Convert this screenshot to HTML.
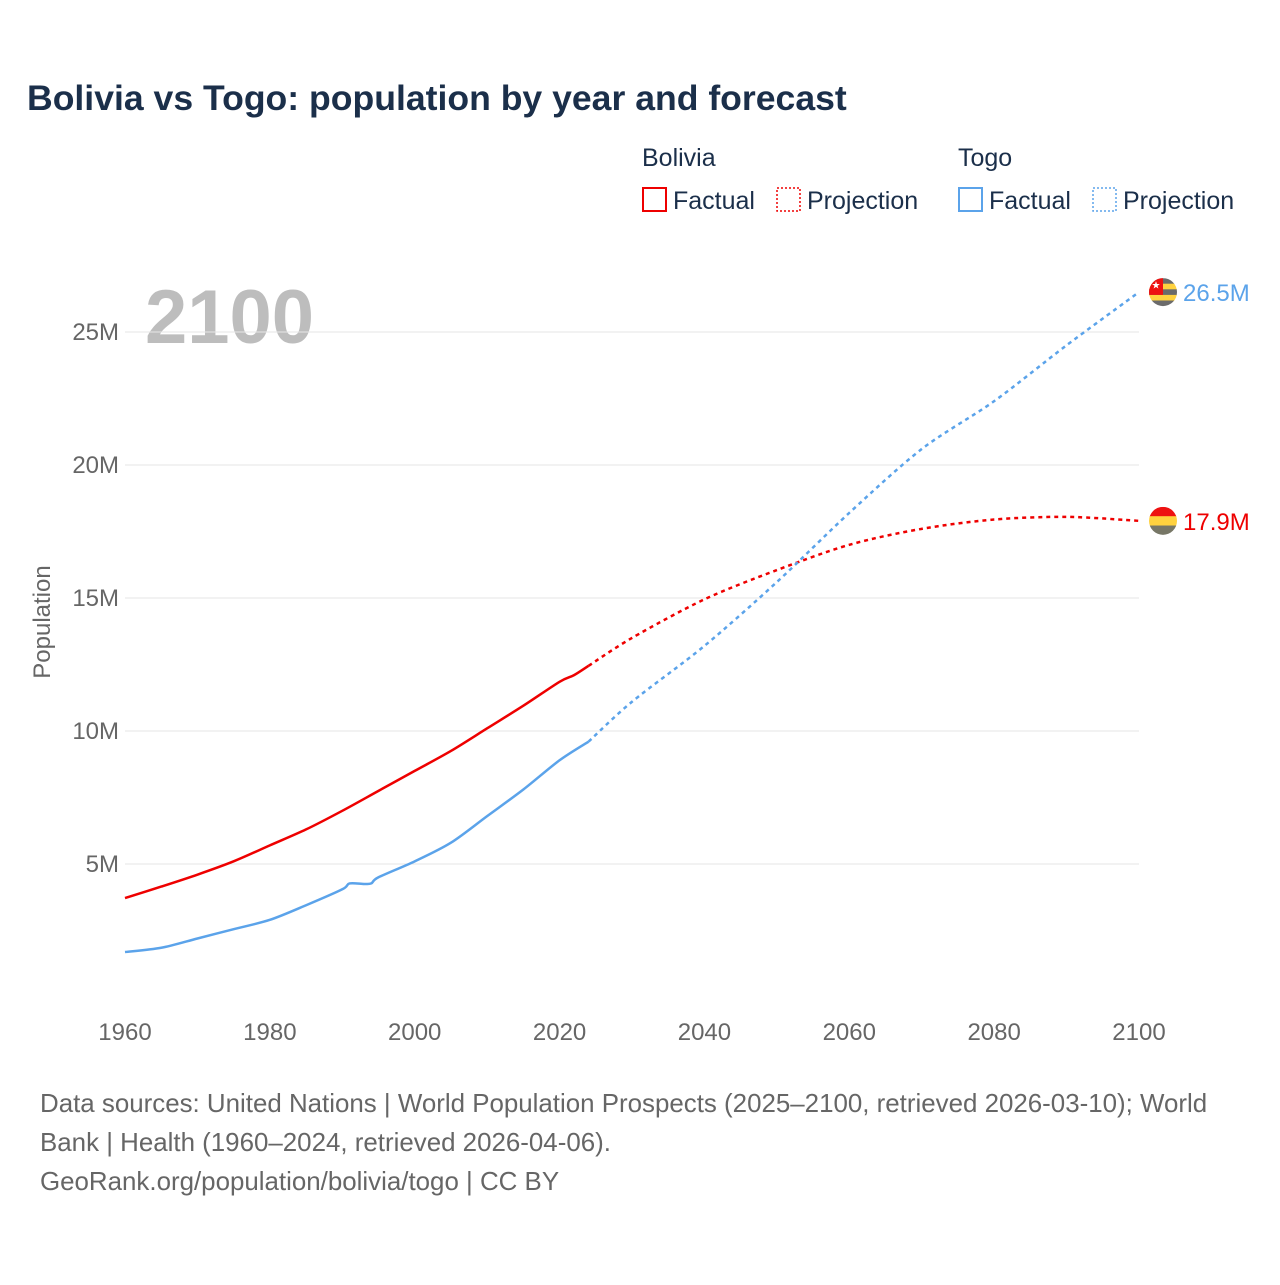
<!DOCTYPE html>
<html><head><meta charset="utf-8"><style>
body{margin:0;background:#fff;font-family:"Liberation Sans",sans-serif}
svg text{font-family:"Liberation Sans",sans-serif}
</style></head><body>
<svg id="c" width="1280" height="1280" xmlns="http://www.w3.org/2000/svg">
<text x="27" y="110" font-size="35.6" font-weight="bold" fill="#1b2f4a">Bolivia vs Togo: population by year and forecast</text>
<g font-size="25" fill="#1b2f4a">
<text x="642" y="166">Bolivia</text>
<rect x="643" y="188" width="23" height="23" fill="none" stroke="#ee0000" stroke-width="2"/>
<text x="673" y="209">Factual</text>
<rect x="777" y="188" width="23" height="23" fill="none" stroke="#ee0000" stroke-width="1.5" stroke-dasharray="2,2"/>
<text x="807" y="209">Projection</text>
<text x="958" y="166">Togo</text>
<rect x="959" y="188" width="23" height="23" fill="none" stroke="#5ba3ea" stroke-width="2"/>
<text x="989" y="209">Factual</text>
<rect x="1093" y="188" width="23" height="23" fill="none" stroke="#5ba3ea" stroke-width="1.5" stroke-dasharray="2,2"/>
<text x="1123" y="209">Projection</text>
</g>
<text x="145" y="343" font-size="76" font-weight="bold" fill="#bdbdbd">2100</text>
<text transform="translate(50,622) rotate(-90)" text-anchor="middle" font-size="24" fill="#666">Population</text>
<g id="grid"></g><g id="series"></g>
<g font-size="25.9" fill="#666">
<text x="40" y="1112">Data sources: United Nations | World Population Prospects (2025–2100, retrieved 2026-03-10); World</text>
<text x="40" y="1151">Bank | Health (1960–2024, retrieved 2026-04-06).</text>
<text x="40" y="1190">GeoRank.org/population/bolivia/togo | CC BY</text>
</g>
</svg>
<script>
const yTicks=[5,10,15,20,25];
const yTickLabels=["5M","10M","15M","20M","25M"];
const xTicks=[1960,1980,2000,2020,2040,2060,2080,2100];
const boliviaYears=[1960,1965,1970,1975,1980,1985,1990,1995,2000,2005,2010,2015,2020,2022,2024];
const boliviaPop=[3.72,4.15,4.6,5.1,5.7,6.3,7.0,7.75,8.5,9.25,10.1,10.95,11.85,12.1,12.45];
const boliviaProjYears=[2024,2030,2040,2050,2060,2070,2080,2090,2100];
const boliviaProjPop=[12.45,13.5,14.95,16.05,17.0,17.6,17.95,18.05,17.9];
const togoYears=[1960,1965,1970,1975,1980,1985,1990,1991,1993,1994,1995,2000,2005,2010,2015,2020,2024];
const togoPop=[1.69,1.85,2.2,2.55,2.9,3.45,4.05,4.27,4.25,4.27,4.5,5.1,5.8,6.8,7.8,8.9,9.6];
const togoProjYears=[2024,2030,2040,2050,2060,2070,2080,2090,2100];
const togoProjPop=[9.6,11.1,13.2,15.6,18.2,20.6,22.4,24.5,26.5];
const NS="http://www.w3.org/2000/svg";
const X=y=>125+(y-1960)*(1014/140);
const Y=v=>997-v*26.6;
function mk(t,a,p){const e=document.createElementNS(NS,t);for(const k in a)e.setAttribute(k,a[k]);p.appendChild(e);return e;}
const g=document.getElementById('grid');
yTicks.forEach((v,i)=>{
 const l=mk('line',{x1:125,x2:1139,y1:Y(v),y2:Y(v),stroke:'#e6e6e6','stroke-width':1},g);
 
 
 const t=mk('text',{x:119,y:Y(v)+8,'text-anchor':'end','font-size':24,fill:'#666'},g);
 t.textContent=yTickLabels[i];
 
 
});
xTicks.forEach(v=>{
 const t=mk('text',{x:X(v),y:1040,'text-anchor':'middle','font-size':24,fill:'#666'},g);
 t.textContent=v;
 
 
});
const s=document.getElementById('series');
function smooth(pts){
 let d='M'+pts[0][0]+','+pts[0][1];
 for(let i=0;i<pts.length-1;i++){
  const p0=pts[Math.max(0,i-1)],p1=pts[i],p2=pts[i+1],p3=pts[Math.min(pts.length-1,i+2)];
  const t=0.15;
  d+=' C'+(p1[0]+(p2[0]-p0[0])*t)+','+(p1[1]+(p2[1]-p0[1])*t)+' '+(p2[0]-(p3[0]-p1[0])*t)+','+(p2[1]-(p3[1]-p1[1])*t)+' '+p2[0]+','+p2[1];
 }
 return d;
}
function line(xs,vs,col,dash,name){
 const pts=xs.map((x,i)=>[X(x),Y(vs[i])]);
 const p=mk('path',{d:smooth(pts),fill:'none',stroke:col,'stroke-width':2.5,'stroke-linejoin':'round'},s);
 if(dash)p.setAttribute('stroke-dasharray','4,4');
 
 
}
line(boliviaYears,boliviaPop,'#ee0000',false,'bolivia-factual-line');
line(boliviaProjYears,boliviaProjPop,'#ee0000',true,'bolivia-projection-line');
line(togoYears,togoPop,'#5ba3ea',false,'togo-factual-line');
line(togoProjYears,togoProjPop,'#5ba3ea',true,'togo-projection-line');
function flag(v,cols,col,label,name){
 const cx=1163,cy=Y(v),r=14;
 const gg=mk('g',{},s);
 
 
 const id='cp'+name;
 const cp=mk('clipPath',{id:id},gg);mk('circle',{cx:cx,cy:cy,r:r},cp);
 const h=2*r/cols.length;
 cols.forEach((c,i)=>mk('rect',{x:cx-r,y:cy-r+i*h,width:2*r,height:h+0.5,fill:c,'clip-path':'url(#'+id+')'},gg));
 if(name==='togo'){mk('rect',{x:cx-r,y:cy-r,width:r,height:h*3,fill:'#ee1111','clip-path':'url(#'+id+')'},gg);
  const st=mk('text',{x:cx-r/2,y:cy-r+h*1.9,'text-anchor':'middle','font-size':10,fill:'#fff'},gg);st.textContent='★';}
 const t=mk('text',{x:1183,y:cy+9,'font-size':24,fill:col},gg);t.textContent=label;
}
flag(togoProjPop[togoProjPop.length-1],['#6b6b6b','#ffd23f','#6b6b6b','#ffd23f','#6b6b6b'],'#5ba3ea','26.5M','togo');
flag(boliviaProjPop[boliviaProjPop.length-1],['#ee1111','#ffd23f','#777766'],'#ee0000','17.9M','bolivia');
</script>
</body></html>
